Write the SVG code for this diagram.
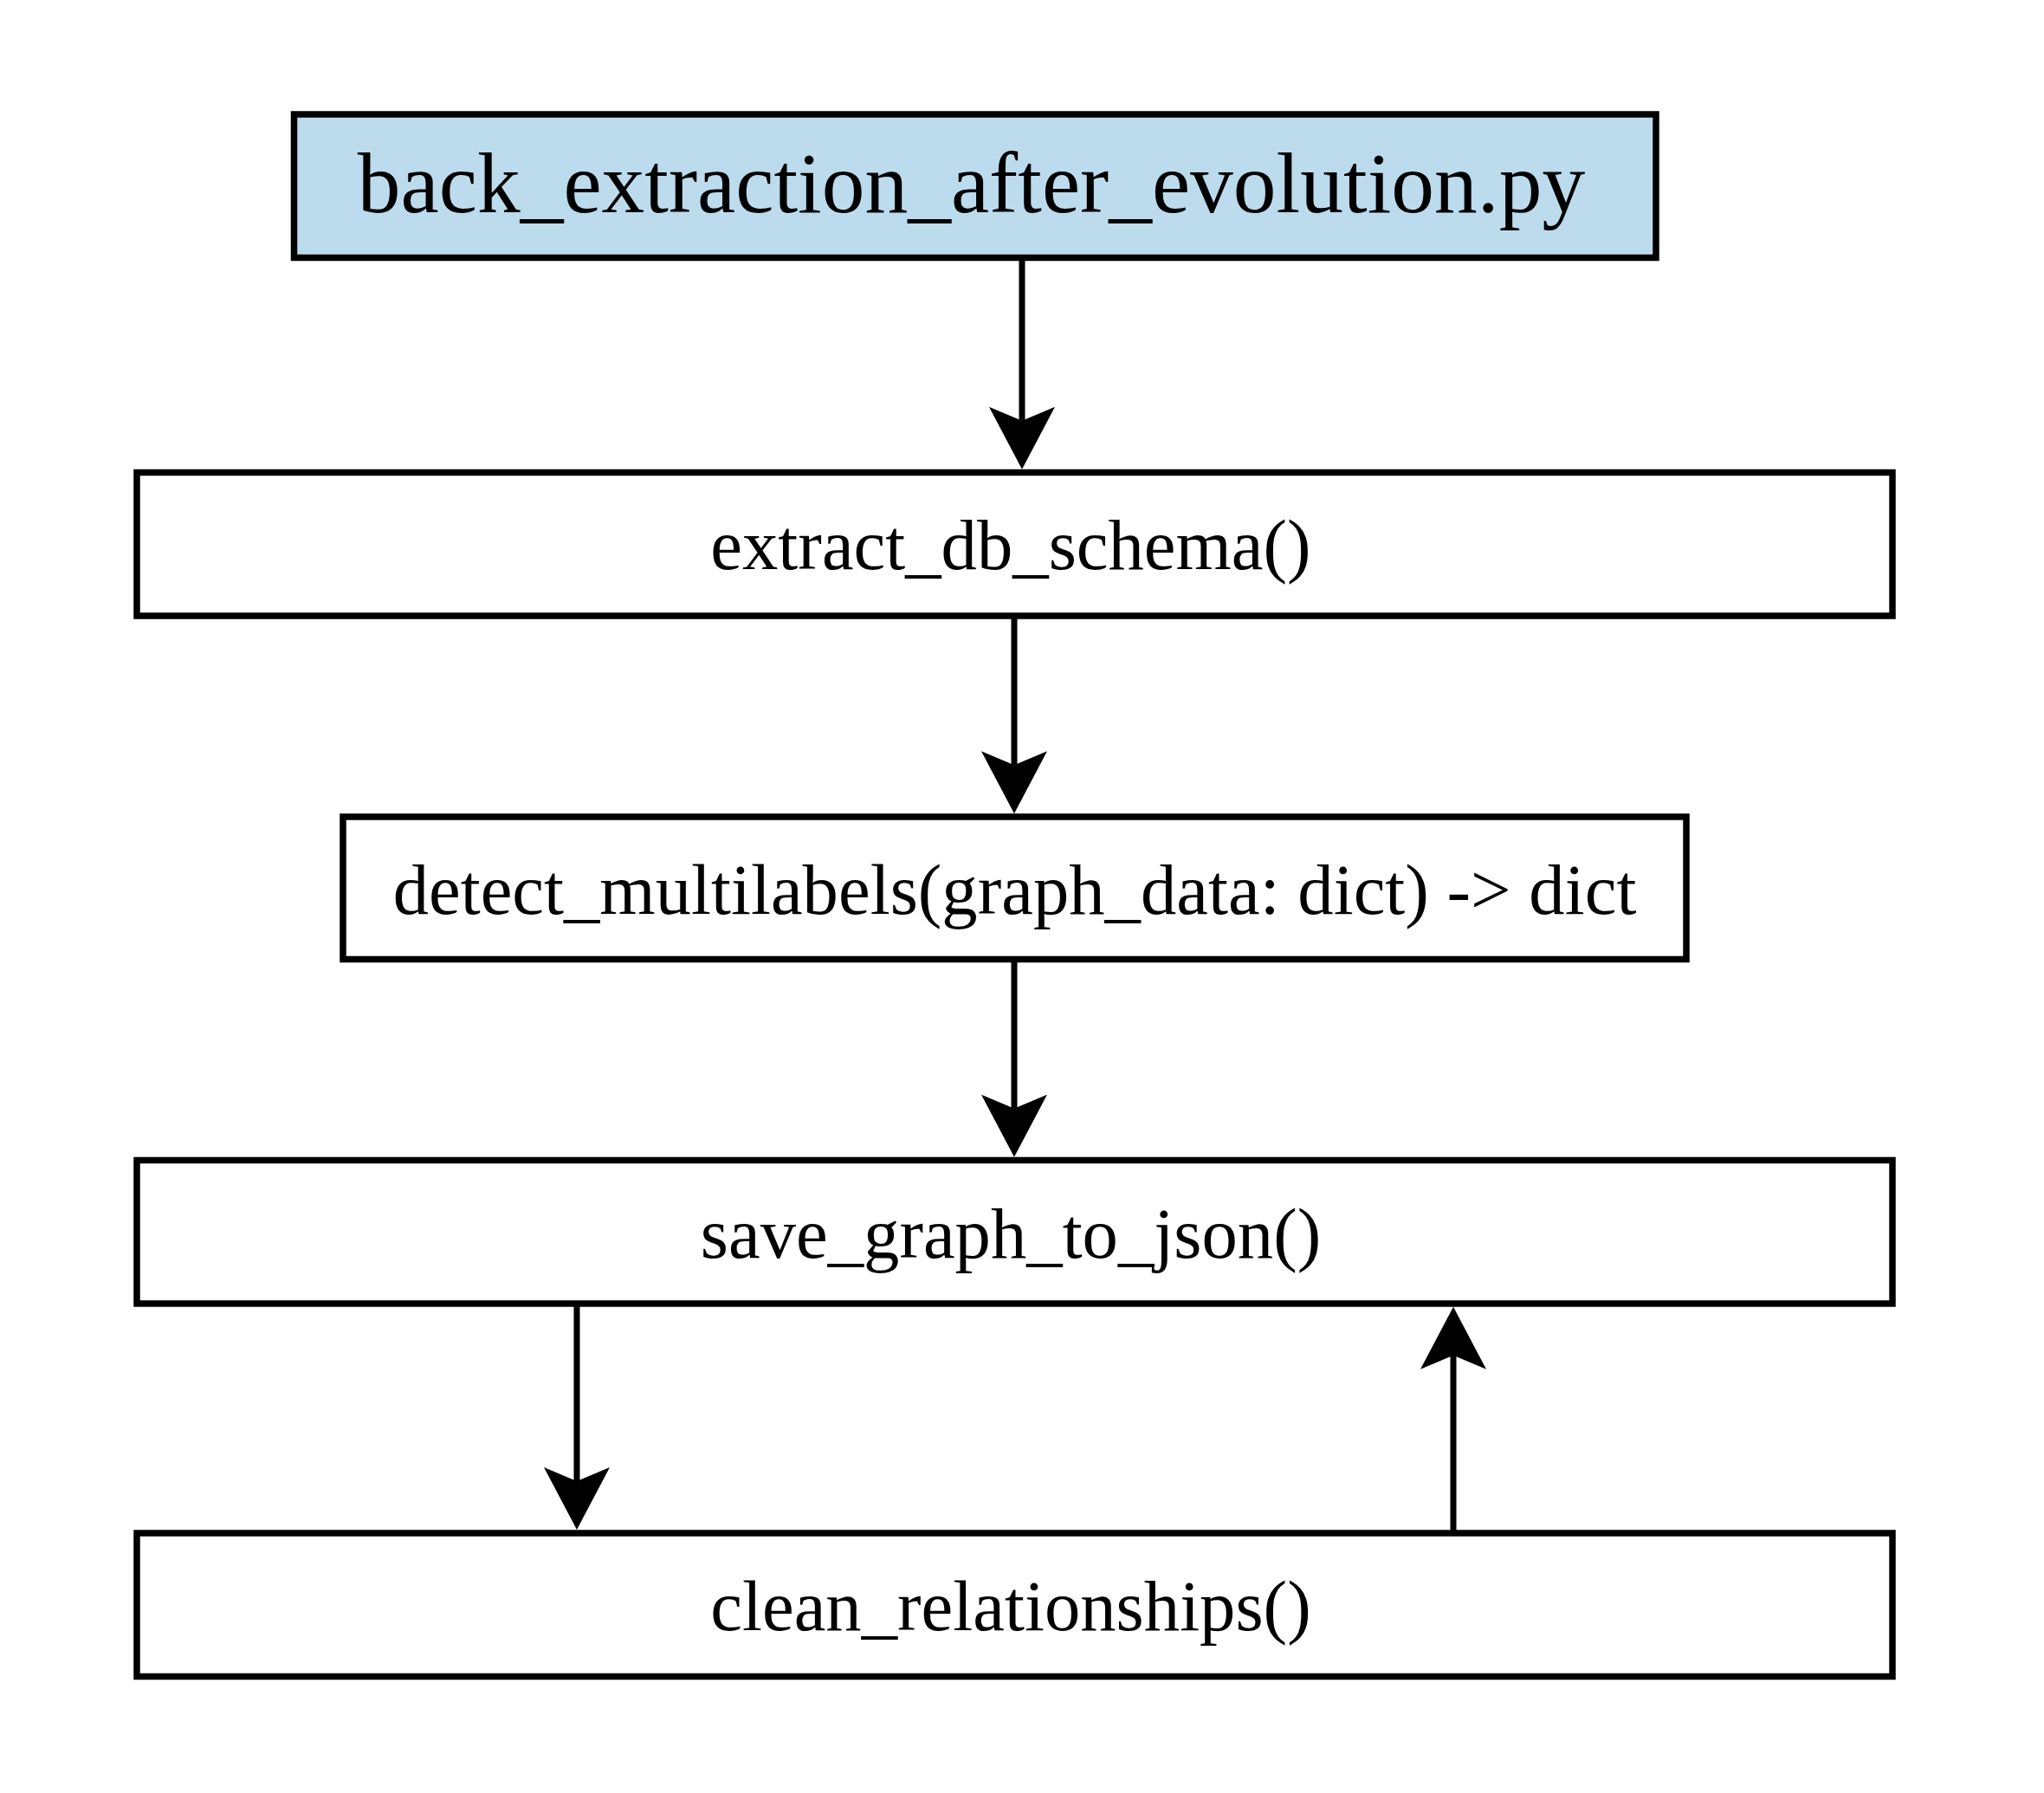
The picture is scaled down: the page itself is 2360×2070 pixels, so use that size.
<svg xmlns="http://www.w3.org/2000/svg" width="2360" height="2070" viewBox="0 0 2360 2070">
  <defs>
    <style>
      .box { fill: #ffffff; stroke: #000000; stroke-width: 7.5; }
      .main { fill: #bcdcee; }
      .lbl { font-family: "Liberation Serif", "Times New Roman", serif; font-size: 82.7px; fill: #000000; text-anchor: middle; }
      .big { font-size: 99.5px; }
      .edge { stroke: #000000; stroke-width: 7; fill: none; }
    </style>
    <marker id="arrow" viewBox="0 0 72 76" refX="16" refY="38" markerWidth="72" markerHeight="76" markerUnits="userSpaceOnUse" orient="auto">
      <path d="M0,0 L72,38 L0,76 L16,38 Z" fill="#000000"/>
    </marker>
  </defs>
  <rect width="2360" height="2070" fill="#ffffff"/>

  <g id="connectors">
    <line class="edge" x1="1180" y1="297.5" x2="1180" y2="485.75" marker-end="url(#arrow)"/>
    <line class="edge" x1="1171" y1="711" x2="1171" y2="883.25" marker-end="url(#arrow)"/>
    <line class="edge" x1="1171" y1="1107.5" x2="1171" y2="1279.75" marker-end="url(#arrow)"/>
    <line class="edge" x1="666" y1="1505" x2="666" y2="1710" marker-end="url(#arrow)"/>
    <line class="edge" x1="1678" y1="1770" x2="1678" y2="1564.75" marker-end="url(#arrow)"/>
  </g>

  <g id="node-back_extraction">
    <rect class="box main" x="339.5" y="132" width="1572.5" height="165.5"/>
    <text class="lbl big" x="1121.5" y="245">back_extraction_after_evolution.py</text>
  </g>
  <g id="node-extract_db_schema">
    <rect class="box" x="158" y="545.5" width="2027" height="165.5"/>
    <text class="lbl" x="1167" y="657">extract_db_schema()</text>
  </g>
  <g id="node-detect_multilabels">
    <rect class="box" x="396" y="943" width="1551" height="164.5"/>
    <text class="lbl" x="1171.5" y="1055">detect_multilabels(graph_data: dict) -&gt; dict</text>
  </g>
  <g id="node-save_graph_to_json">
    <rect class="box" x="158" y="1339.5" width="2027" height="165.5"/>
    <text class="lbl" x="1167" y="1452">save_graph_to_json()</text>
  </g>
  <g id="node-clean_relationships">
    <rect class="box" x="158" y="1770" width="2027" height="165.5"/>
    <text class="lbl" x="1167" y="1882">clean_relationships()</text>
  </g>
</svg>
